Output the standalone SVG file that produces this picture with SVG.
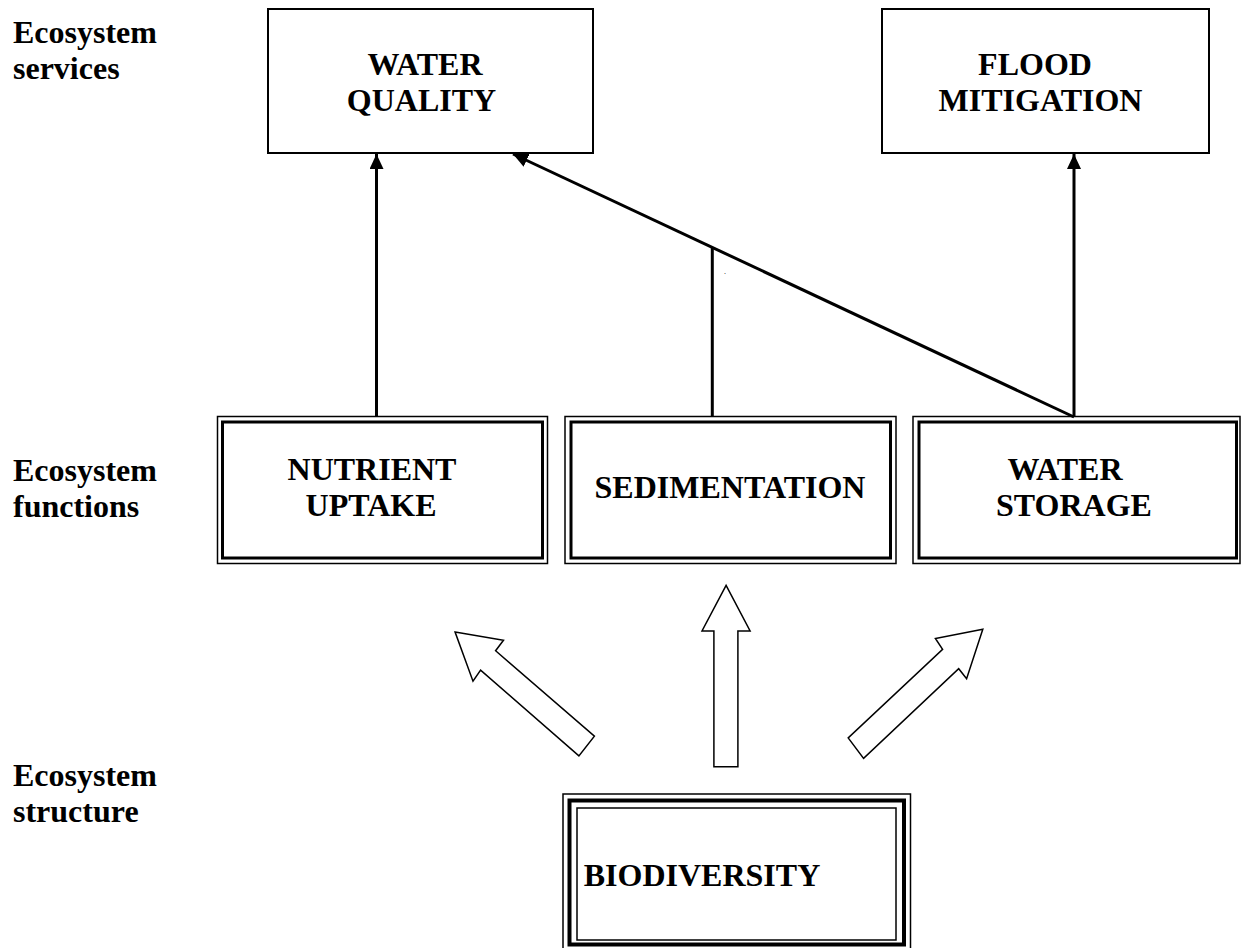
<svg xmlns="http://www.w3.org/2000/svg" width="1242" height="948" viewBox="0 0 1242 948">
<defs>
<style>
.t{font-family:"Liberation Serif","Times New Roman",serif;font-weight:bold;font-size:32px;fill:#000;text-anchor:middle}
.lab{font-family:"Liberation Serif","Times New Roman",serif;font-weight:bold;font-size:32px;fill:#000}
.box{fill:#fff;stroke:#000;stroke-width:2}
.outer{fill:#fff;stroke:#000;stroke-width:1.5}
.inner{fill:none;stroke:#000;stroke-width:3}
.thick{fill:none;stroke:#000;stroke-width:4}
.thin{fill:none;stroke:#000;stroke-width:1.5}
.con{stroke:#000;stroke-width:3;fill:none}
.blk{fill:#fff;stroke:#000;stroke-width:1.5;stroke-linejoin:miter}
</style>
<marker id="ah" markerUnits="userSpaceOnUse" markerWidth="16" markerHeight="14" refX="15" refY="7" orient="auto">
<path d="M0,0 L15,7 L0,14 z" fill="#000"/>
</marker>
</defs>
<rect width="1242" height="948" fill="#fff"/>

<g id="labels">
<text class="lab" x="13" y="43">Ecosystem</text>
<text class="lab" x="13" y="79">services</text>
<text class="lab" x="13" y="481">Ecosystem</text>
<text class="lab" x="13" y="517">functions</text>
<text class="lab" x="13" y="786">Ecosystem</text>
<text class="lab" x="13" y="822">structure</text>
</g>

<g id="water-quality">
<rect class="box" x="268" y="9" width="325" height="144"/>
<text class="t" x="425" y="74.5">WATER</text>
<text class="t" x="421.5" y="110.5">QUALITY</text>
</g>

<g id="flood-mitigation">
<rect class="box" x="882" y="9" width="327" height="144"/>
<text class="t" x="1035" y="74.5">FLOOD</text>
<text class="t" x="1040.5" y="110.5">MITIGATION</text>
</g>

<g id="nutrient-uptake">
<rect class="outer" x="217.5" y="416.5" width="330" height="147"/>
<rect class="inner" x="222.5" y="422" width="320" height="136"/>
<text class="t" x="372" y="479.5">NUTRIENT</text>
<text class="t" x="371" y="516">UPTAKE</text>
</g>

<g id="sedimentation">
<rect class="outer" x="565" y="416.5" width="331" height="147"/>
<rect class="inner" x="571" y="422" width="319.5" height="136"/>
<text class="t" x="730" y="497.5">SEDIMENTATION</text>
</g>

<g id="water-storage">
<rect class="outer" x="913" y="416.5" width="327" height="147"/>
<rect class="inner" x="919" y="422" width="317.5" height="136"/>
<text class="t" x="1065" y="479.5">WATER</text>
<text class="t" x="1074" y="516">STORAGE</text>
</g>

<g id="biodiversity">
<rect class="thin" x="563" y="794" width="347.5" height="170" fill="#fff"/>
<rect class="thick" x="569.5" y="800.5" width="334.5" height="144"/>
<rect class="thin" x="577" y="808" width="319" height="132"/>
<text class="t" x="702" y="886">BIODIVERSITY</text>
</g>

<g id="connectors">
<line class="con" x1="376.5" y1="417" x2="376.5" y2="154" marker-end="url(#ah)"/>
<line class="con" x1="712.3" y1="417" x2="712.3" y2="247"/>
<line class="con" x1="1074" y1="417" x2="1074" y2="154" marker-end="url(#ah)"/>
<line class="con" x1="1074" y1="417" x2="513" y2="154" marker-end="url(#ah)"/>
<text x="724" y="274" font-family="Liberation Serif, serif" font-size="8">.</text>
<polygon class="blk" points="455.1,632.1 503.5,640.3 495.6,650.7 594.4,736.2 578.9,755.9 480.6,670.1 473,681.2"/>
<polygon class="blk" points="726.1,585.4 750.1,631 737.9,631 737.9,766.7 713.9,766.7 713.9,631 702,631"/>
<polygon class="blk" points="982.8,629.2 966.6,678.7 958.7,668.7 863.6,758.4 848.2,737.9 942.6,649.3 935.4,638.5"/>
</g>
</svg>
